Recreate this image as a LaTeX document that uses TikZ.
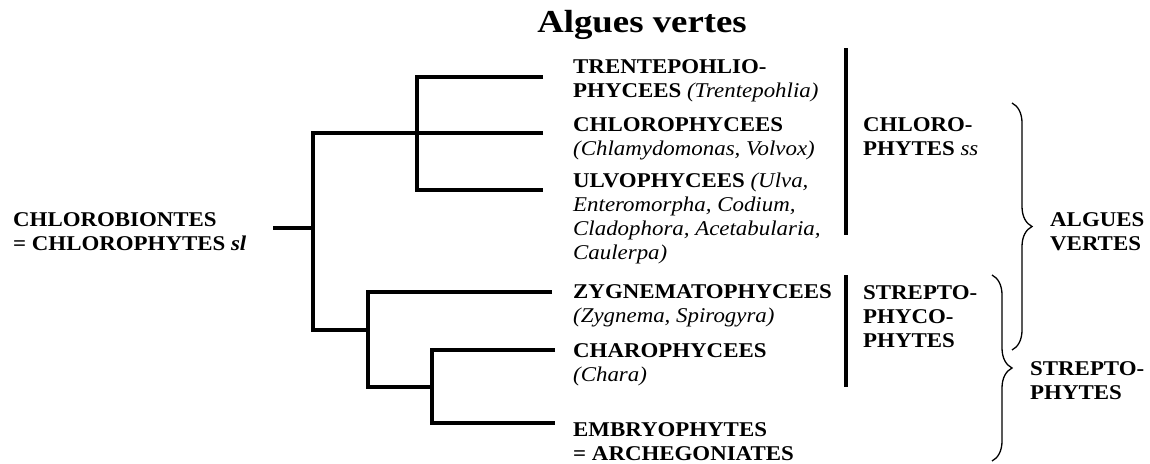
\documentclass[tikz,border=0pt]{standalone}
\usepackage{fontspec}
\setmainfont{Liberation Serif}[FakeStretch=1.09]
\newfontfamily\titlefont{Liberation Serif}[FakeStretch=1.15]
\usetikzlibrary{decorations.pathreplacing}
\newcommand\genus[1]{{\mdseries\itshape #1}}
\begin{document}
\begin{tikzpicture}[x=1pt,y=-1pt,
  lbl/.style={anchor=base west,inner sep=0pt,font=\fontsize{21}{24}\selectfont\bfseries},
  ttl/.style={anchor=base,inner sep=0pt,font=\titlefont\fontsize{32}{36}\selectfont\bfseries},
  tree/.style={line width=4.5pt,line join=miter,line cap=butt},
  bar/.style={line width=4.5pt},
  brc/.style={decorate,decoration={brace,amplitude=20pt},line width=1.3pt}]
\useasboundingbox (0,0) rectangle (1150,463);

\node[ttl] (title) at (642,32) {Algues vertes};

% tree coordinates
\coordinate (root) at (273,228);
\coordinate (r) at (313,228);
\coordinate (a) at (417,133);
\coordinate (b) at (368,330);
\coordinate (c) at (432,387);
\coordinate (tT) at (543,77);
\coordinate (tC) at (543,133);
\coordinate (tU) at (543,190);
\coordinate (tZ) at (552,292);
\coordinate (tCh) at (555,350);
\coordinate (tE) at (555,423);

\draw[tree] (root) -- (r);
\draw[tree] (tC) -| (r) |- (b);
\draw[tree] (tT) -| (a) |- (tU);
\draw[tree] (tZ) -| (b) |- (c);
\draw[tree] (tCh) -| (c) |- (tE);

% root label
\node[lbl] (cb1) at (13,226) {CHLOROBIONTES};
\node[lbl] (cb2) at (13,250) {= CHLOROPHYTES \textit{sl}};

% leaf labels
\node[lbl] (l1) at (573,73) {TRENTEPOHLIO-};
\node[lbl] (l2) at (573,97) {PHYCEES \genus{(Trentepohlia)}};
\node[lbl] (l3) at (573,131) {CHLOROPHYCEES};
\node[lbl] (l4) at (573,155) {\genus{(Chlamydomonas, Volvox)}};
\node[lbl] (l5) at (573,187) {ULVOPHYCEES \genus{(Ulva,}};
\node[lbl] (l6) at (573,211) {\genus{Enteromorpha, Codium,}};
\node[lbl] (l7) at (573,235) {\genus{Cladophora, Acetabularia,}};
\node[lbl] (l8) at (573,259) {\genus{Caulerpa)}};
\node[lbl] (l9) at (573,298) {ZYGNEMATOPHYCEES};
\node[lbl] (l10) at (573,322) {\genus{(Zygnema, Spirogyra)}};
\node[lbl] (l11) at (573,357) {CHAROPHYCEES};
\node[lbl] (l12) at (573,381) {\genus{(Chara)}};
\node[lbl] (l13) at (573,436) {EMBRYOPHYTES};
\node[lbl] (l14) at (573,460) {= ARCHEGONIATES};

% bars
\coordinate (b1t) at (846,48);
\coordinate (b1b) at (846,235);
\coordinate (b2t) at (846,275);
\coordinate (b2b) at (846,387);
\draw[bar] (b1t) -- (b1b);
\draw[bar] (b2t) -- (b2b);

\node[lbl] (g1) at (863,131) {CHLORO-};
\node[lbl] (g2) at (863,155) {PHYTES \genus{ss}};
\node[lbl] (g3) at (863,299) {STREPTO-};
\node[lbl] (g4) at (863,323) {PHYCO-};
\node[lbl] (g5) at (863,347) {PHYTES};

% braces
\coordinate (br1t) at (1012,103);
\coordinate (br1b) at (1012,350);
\coordinate (br2t) at (992,275);
\coordinate (br2b) at (992,461);
\draw[brc] (br1t) -- (br1b);
\draw[brc] (br2t) -- (br2b);

\node[lbl] (av1) at (1050,226) {ALGUES};
\node[lbl] (av2) at (1050,250) {VERTES};
\node[lbl] (sp1) at (1030,375) {STREPTO-};
\node[lbl] (sp2) at (1030,399) {PHYTES};
\end{tikzpicture}
\end{document}
